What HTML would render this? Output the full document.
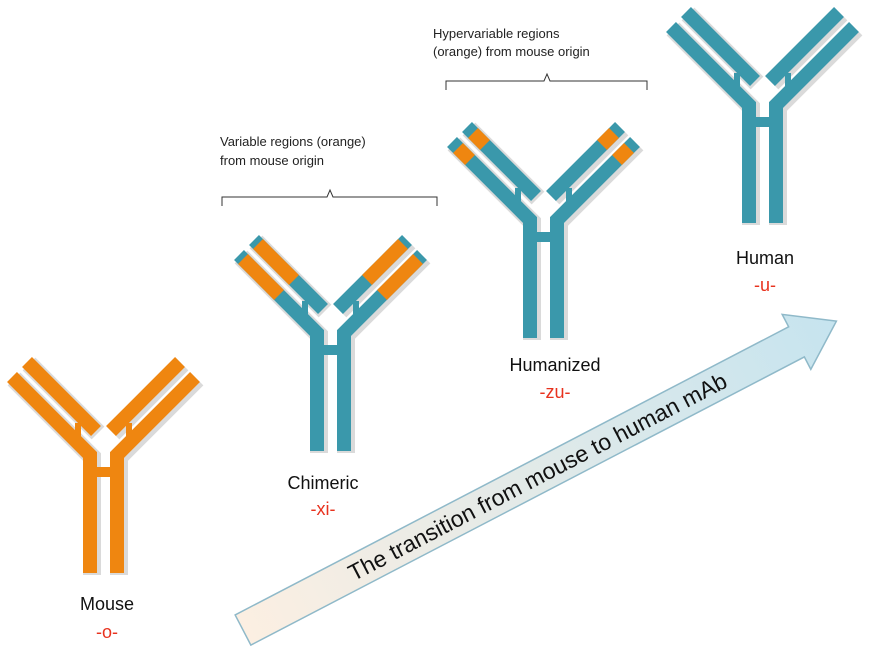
<!DOCTYPE html>
<html><head><meta charset="utf-8"><style>
html,body{margin:0;padding:0;background:#fff;}
svg{display:block;}
text{font-family:"Liberation Sans",sans-serif;}
</style></head><body>
<svg width="874" height="657" viewBox="0 0 874 657" xmlns="http://www.w3.org/2000/svg">
<defs>
  <linearGradient id="ag" x1="0" y1="0" x2="1" y2="0">
    <stop offset="0" stop-color="#fcefe2"/>
    <stop offset="1" stop-color="#c6e4ef"/>
  </linearGradient>
  <g id="shadow" fill="none" stroke="#dadada" stroke-width="18">
    <path d="M92,575 V457 L14,379"/>
    <path d="M29,364 L98,433"/>
    <path d="M119,575 V457 L197,379"/>
    <path d="M182,364 L113,433"/>
  </g>
  <g id="ab" fill="none" stroke-width="14">
    <path d="M90,573 V455 L12,377"/>
    <path d="M27,362 L96,431"/>
    <path d="M117,573 V455 L195,377"/>
    <path d="M180,362 L111,431"/>
    <path d="M78,423 V437" stroke-width="6"/>
    <path d="M129,423 V437" stroke-width="6"/>
    <path d="M90,472 H117" stroke-width="10"/>
  </g>
</defs>

<use href="#shadow"/>
<g stroke="#ef8610"><use href="#ab"/></g>

<g transform="translate(227,-122)">
  <use href="#shadow"/>
  <g stroke="#3a98ab"><use href="#ab"/></g>
  <g stroke="#ef8610" stroke-width="14" fill="none">
    <path d="M16,381 L52,417"/><path d="M31,366 L67,402"/>
    <path d="M191,381 L155,417"/><path d="M176,366 L140,402"/>
  </g>
</g>

<g transform="translate(440,-235)">
  <use href="#shadow"/>
  <g stroke="#3a98ab"><use href="#ab"/></g>
  <g stroke="#ef8610" stroke-width="14" fill="none">
    <path d="M18,383 L30,395"/><path d="M33,368 L45,380"/>
    <path d="M189,383 L177,395"/><path d="M174,368 L162,380"/>
  </g>
</g>

<g transform="translate(659,-350)">
  <use href="#shadow"/>
  <g stroke="#3a98ab"><use href="#ab"/></g>
</g>

<g transform="translate(243,630) rotate(-27.5)">
  <path d="M0,-17 H624 V-31 L669,0 L624,31 V17 H0 Z" fill="url(#ag)" stroke="#8fb9c9" stroke-width="1.5"/>
  <text x="332" y="8" font-size="23" text-anchor="middle" fill="#111">The transition from mouse to human mAb</text>
</g>

<g font-size="18" text-anchor="middle" fill="#111">
  <text x="107" y="610">Mouse</text>
  <text x="323" y="489">Chimeric</text>
  <text x="555" y="371">Humanized</text>
  <text x="765" y="264">Human</text>
</g>
<g font-size="18" text-anchor="middle" fill="#e8321e">
  <text x="107" y="638">-o-</text>
  <text x="323" y="515">-xi-</text>
  <text x="555" y="398">-zu-</text>
  <text x="765" y="291">-u-</text>
</g>

<g fill="none" stroke="#333" stroke-width="1">
  <path d="M222,206 V197 H327 L330,190 L333,197 H437 V206"/>
  <path d="M446,90 V81 H544 L547,74 L550,81 H647 V90"/>
</g>
<g font-size="13" fill="#222">
  <text x="220" y="146">Variable regions (orange)</text>
  <text x="220" y="165">from mouse origin</text>
  <text x="433" y="38">Hypervariable regions</text>
  <text x="433" y="56">(orange) from mouse origin</text>
</g>
</svg>
</body></html>
